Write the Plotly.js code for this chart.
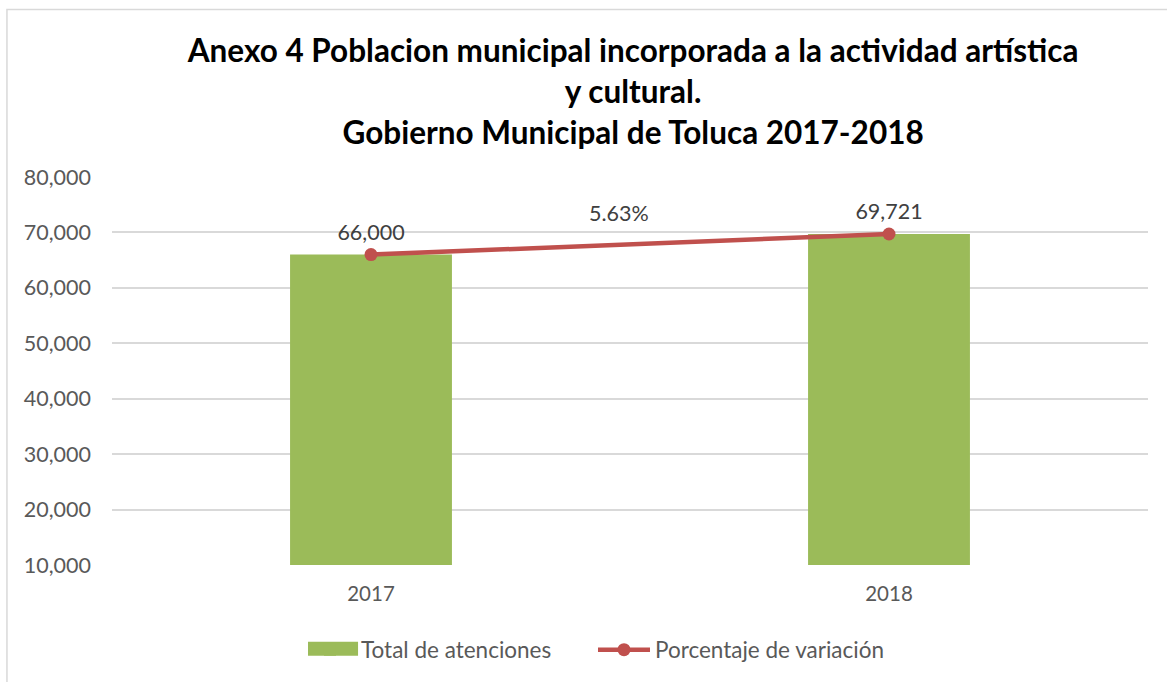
<!DOCTYPE html>
<html>
<head>
<meta charset="utf-8">
<script src="https://cdn.plot.ly/plotly-3.0.1.min.js"></script>
<style>html,body{margin:0;padding:0;background:#fff;}#chart{width:1167px;height:682px;}</style>
</head>
<body>
<div id="chart"></div>
<script>
const years = ["2017", "2018"];
const totalAtenciones = [66000, 69721];
const porcentajeVariacion = [66000, 69721];
const pointLabels = ["66,000", "69,721"];
const variationText = "5.63%";
const yTicks = [10000, 20000, 30000, 40000, 50000, 60000, 70000, 80000];
const yTickLabels = ["10,000", "20,000", "30,000", "40,000", "50,000", "60,000", "70,000", "80,000"];
const titleText = "Anexo 4 Poblacion municipal incorporada a la actividad artística<br>y cultural.<br>Gobierno Municipal de Toluca 2017-2018";

const FONT = "Lato, 'Open Sans', sans-serif";

const traces = [
  {
    type: "bar",
    name: "Total de atenciones",
    x: years,
    y: totalAtenciones,
    base: 0,
    marker: {color: "#9BBB59"},
    width: 0.3125,
    hoverinfo: "x+y"
  },
  {
    type: "scatter",
    mode: "lines+markers+text",
    name: "Porcentaje de variación",
    x: years,
    y: porcentajeVariacion,
    text: pointLabels,
    textposition: "top center",
    textfont: {family: FONT, size: 21.5, color: "#404040"},
    line: {color: "#C0504D", width: 4.5},
    marker: {color: "#C0504D", size: 13},
    cliponaxis: false
  }
];

const layout = {
  width: 1167,
  height: 682,
  paper_bgcolor: "#ffffff",
  plot_bgcolor: "#ffffff",
  margin: {l: 112, r: 19, t: 177, b: 116, pad: 0},
  font: {family: FONT, color: "#595959"},
  title: {
    text: titleText,
    font: {family: FONT, size: 31.5, color: "#000000", weight: "bold"},
    xref: "paper",
    x: 0.503,
    xanchor: "center",
    yref: "container",
    y: 0.909,
    yanchor: "top"
  },
  xaxis: {
    type: "category",
    showgrid: false,
    showline: false,
    zeroline: false,
    ticks: "",
    tickfont: {family: FONT, size: 20.5, color: "#595959"},
    ticklabelstandoff: 14
  },
  yaxis: {
    range: [10000, 80000],
    tickvals: yTicks,
    ticktext: yTickLabels,
    showgrid: true,
    gridcolor: "#D9D9D9",
    gridwidth: 2,
    zeroline: false,
    showline: false,
    ticks: "",
    tickfont: {family: FONT, size: 21.5, color: "#595959"},
    ticklabelstandoff: 20
  },
  showlegend: true,
  legend: {
    orientation: "h",
    x: 0.1805,
    xanchor: "left",
    y: -0.216,
    yanchor: "middle",
    bgcolor: "rgba(0,0,0,0)",
    font: {family: FONT, size: 22.5, color: "#595959"},
    itemwidth: 52,
    entrywidth: 227,
    entrywidthmode: "pixels",
    traceorder: "normal"
  },
  annotations: [
    {
      x: 0.479,
      y: 73500,
      xref: "x",
      yref: "y",
      text: variationText,
      showarrow: false,
      font: {family: FONT, size: 21.5, color: "#404040"}
    }
  ],
  shapes: [
    {
      type: "rect",
      xref: "paper",
      yref: "paper",
      x0: -0.1014,
      x1: 1.2,
      y0: -0.4,
      y1: 1.432,
      line: {color: "#D9D9D9", width: 1.5},
      fillcolor: "rgba(0,0,0,0)",
      layer: "below"
    },
    {
      type: "rect",
      xref: "paper",
      yref: "paper",
      x0: 0.1892,
      x1: 0.2375,
      y0: -0.2339,
      y1: -0.1979,
      line: {width: 0},
      fillcolor: "#9BBB59",
      layer: "above"
    }
  ]
};

Plotly.newPlot("chart", traces, layout, {displayModeBar: false, responsive: false});
</script>
</body>
</html>
